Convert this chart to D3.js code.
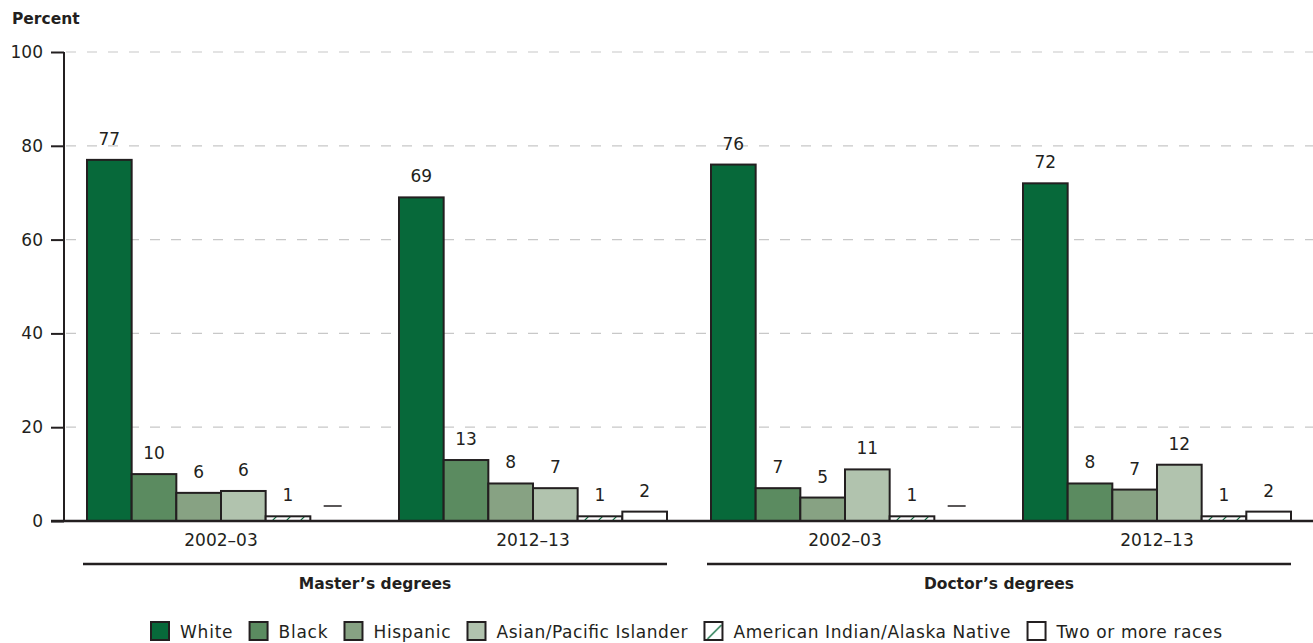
<!DOCTYPE html>
<html><head><meta charset="utf-8">
<script src="https://cdn.jsdelivr.net/npm/d3@7"></script>
<style>body{margin:0;background:#fff}svg{display:block}</style>
</head><body>
<svg id="c" width="1313" height="643"></svg>
<script>
const groups = ["m2002", "m2012", "d2002", "d2012"];
const groupLabels = ["2002–03", "2012–13", "2002–03", "2012–13"];
const levels = ["Master’s degrees", "Doctor’s degrees"];
const series = ["White", "Black", "Hispanic", "Asian/Pacific Islander", "American Indian/Alaska Native", "Two or more races"];
const white    = [77, 69, 76, 72];
const black    = [10, 13, 7, 8];
const hispanic = [6, 8, 5, 6.7];
const asian    = [6.4, 7, 11, 12];
const aian     = [1, 1, 1, 1];
const twoMore  = [null, 2, null, 2];
const valueLabels = [
  ["77","10","6","6","1","—"],
  ["69","13","8","7","1","2"],
  ["76","7","5","11","1","—"],
  ["72","8","7","12","1","2"]
];
const yTicks = [0, 20, 40, 60, 80, 100];
const colors = ["#07693a", "#5b8b60", "#87a283", "#b1c3ae", "url(#hatch)", "#ffffff"];

const allSeries = [white, black, hispanic, asian, aian, twoMore];
const svg = d3.select("#c");
const font = "DejaVu Sans, sans-serif";
const ink = "#231f20";

const defs = svg.append("defs");
const pat = defs.append("pattern").attr("id", "hatch").attr("patternUnits", "userSpaceOnUse")
  .attr("width", 14).attr("height", 14);
pat.append("rect").attr("width", 14).attr("height", 14).attr("fill", "#fff");
pat.append("path").attr("d", "M-2,16 L16,-2 M-9,9 L9,-9 M5,23 L23,5").attr("stroke", "#07693a").attr("stroke-width", 1.2);
const pat2 = defs.append("pattern").attr("id", "hatchL").attr("patternUnits", "objectBoundingBox")
  .attr("width", 1).attr("height", 1);
pat2.append("rect").attr("width", 20).attr("height", 20).attr("fill", "#fff");
pat2.append("path").attr("d", "M3,17 L17,3").attr("stroke", "#07693a").attr("stroke-width", 1.2);

const y = d3.scaleLinear().domain([0, 100]).range([521, 52]);
const x0 = d3.scaleBand().domain(groups).range([65, 1313]).paddingInner(0).paddingOuter(0);
const x1 = d3.scaleBand().domain(series).range([22, x0.bandwidth() - 22]).padding(0);

// gridlines
svg.append("g").selectAll("line").data(yTicks.filter(d => d > 0)).join("line")
  .attr("x1", 66).attr("x2", 1313).attr("y1", d => y(d)).attr("y2", d => y(d))
  .attr("stroke", "#c8c8c8").attr("stroke-width", 1.2).attr("stroke-dasharray", "10,11");

// y axis
const yAxis = svg.append("g").attr("transform", "translate(64,0)")
  .call(d3.axisLeft(y).tickValues(yTicks).tickSize(13).tickPadding(8));
yAxis.select(".domain").attr("stroke", ink).attr("stroke-width", 2).attr("d", `M0,${y(100)}V${y(0)}`);
yAxis.selectAll(".tick line").attr("stroke", ink).attr("stroke-width", 2);
yAxis.selectAll(".tick text").attr("font-family", font).attr("font-size", 17).attr("fill", ink);

svg.append("text").attr("x", 12).attr("y", 24).text("Percent")
  .attr("font-family", font).attr("font-size", 15.5).attr("font-weight", "bold").attr("fill", ink);

// bars
const gs = svg.append("g").selectAll("g").data(groups).join("g")
  .attr("transform", d => `translate(${x0(d)},0)`);
gs.each(function(g, gi) {
  const sel = d3.select(this);
  series.forEach((s, si) => {
    const v = allSeries[si][gi];
    const bx = x1(s), bw = x1.bandwidth();
    if (v == null) {
      sel.append("line").attr("x1", bx + bw / 2 - 9).attr("x2", bx + bw / 2 + 9)
        .attr("y1", y(0) - 15).attr("y2", y(0) - 15).attr("stroke", ink).attr("stroke-width", 1.5);
      return;
    }
    sel.append("rect").attr("x", bx).attr("width", bw).attr("y", y(v)).attr("height", y(0) - y(v))
      .attr("fill", colors[si]).attr("stroke", ink).attr("stroke-width", 2);
    sel.append("text").attr("x", bx + bw / 2).attr("y", y(v) - 15).attr("text-anchor", "middle")
      .attr("font-family", font).attr("font-size", 17).attr("fill", ink).text(valueLabels[gi][si]);
  });
});

// baseline
svg.append("line").attr("x1", 51).attr("x2", 1313).attr("y1", y(0)).attr("y2", y(0))
  .attr("stroke", ink).attr("stroke-width", 2.5);

// category labels
svg.append("g").selectAll("text").data(groups).join("text")
  .attr("x", d => x0(d) + x0.bandwidth() / 2).attr("y", 546).attr("text-anchor", "middle")
  .attr("font-family", font).attr("font-size", 17).attr("fill", ink)
  .text((d, i) => groupLabels[i]);

// level brackets
levels.forEach((lv, li) => {
  const ga = groups[li * 2], gb = groups[li * 2 + 1];
  const xa = x0(ga) + x1(series[0]) - 4;
  const xb = x0(gb) + x1(series[5]) + x1.bandwidth();
  svg.append("line").attr("x1", xa).attr("x2", xb).attr("y1", 564).attr("y2", 564)
    .attr("stroke", ink).attr("stroke-width", 2.5);
  svg.append("text").attr("x", (xa + xb) / 2).attr("y", 589).attr("text-anchor", "middle")
    .attr("font-family", font).attr("font-size", 15.5).attr("font-weight", "bold").attr("fill", ink).text(lv);
});

// legend (spread to span 150 → 1222)
const leg = svg.append("g");
const legStart = 150, legEnd = 1222, swGap = 30, itemGap = 16;
const texts = series.map(s => leg.append("text").attr("y", 638)
  .attr("font-family", font).attr("font-size", 17).attr("fill", ink).text(s));
const widths = texts.map(t => t.node().getComputedTextLength());
const fixed = series.length * swGap + (series.length - 1) * itemGap;
const k = (legEnd - legStart - fixed) / d3.sum(widths);
let lx = legStart;
series.forEach((s, si) => {
  leg.append("rect").attr("x", lx + 1).attr("y", 622).attr("width", 18).attr("height", 18)
    .attr("fill", si === 4 ? "url(#hatchL)" : colors[si]).attr("stroke", ink).attr("stroke-width", 2);
  const w = widths[si] * k;
  texts[si].attr("x", lx + swGap).attr("textLength", w).attr("lengthAdjust", "spacing");
  lx += swGap + w + itemGap;
});
</script>
</body></html>
